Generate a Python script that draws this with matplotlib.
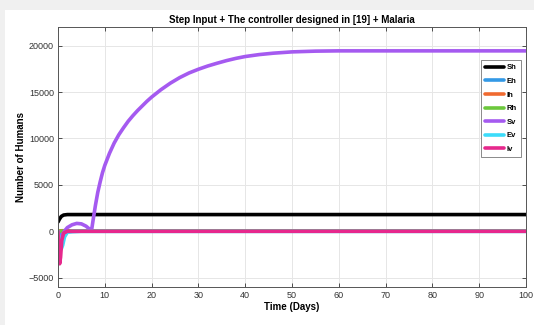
import matplotlib
matplotlib.use("Agg")
import matplotlib.pyplot as plt
from matplotlib.patches import Rectangle

plt.rcParams['font.family'] = ['Liberation Sans', 'DejaVu Sans']

# ---- data ----
t_sh = [0, 0.3, 0.7, 1.2, 2, 5, 10, 20, 40, 60, 80, 100]
Sh = [1000, 1300, 1600, 1750, 1800, 1800, 1800, 1800, 1800, 1800, 1800, 1800]

t_eh = [0, 0.3, 0.7, 1.2, 2, 5, 100]
Eh = [0, -300, -400, -200, -50, 0, 0]

t_ih = [0, 0.5, 1, 2, 5, 100]
Ih = [0, 50, 60, 30, 10, 10]

t_rh = [0, 1, 2, 5, 100]
Rh = [0, 20, 40, 50, 50]

t_sv = [0, 0.3, 0.6, 1, 1.5, 2, 3, 4, 5, 6, 6.7, 7.2, 7.5, 8, 8.5, 9, 9.5, 10, 11, 12,
        13, 14, 15, 16, 17, 18, 19, 20, 21, 22, 24, 26, 28, 30, 32, 34, 36, 38, 40,
        43, 46, 50, 55, 60, 70, 80, 90, 100]
Sv = [0, -1500, -900, -300, 100, 400, 700, 850, 800, 550, 250, 200, 1200, 2800, 4200,
      5300, 6300, 7100, 8400, 9500, 10400, 11150, 11850, 12450, 13000, 13500, 14000,
      14450, 14850, 15250, 15950, 16550, 17050, 17450, 17800, 18100, 18380, 18620, 18820,
      19030, 19180, 19320, 19400, 19430, 19430, 19430, 19430, 19430]

t_ev = [0, 0.3, 0.7, 1.0, 1.4, 2, 3, 100]
Ev = [0, -1200, -1900, -1500, -600, -100, 0, 0]

t_iv = [0, 0.15, 0.35, 0.55, 0.8, 1.2, 2, 3, 100]
Iv = [0, -2000, -3500, -2800, -1000, -200, 0, 0, 0]

labels = ['Sh', 'Eh', 'Ih', 'Rh', 'Sv', 'Ev', 'Iv']
colors = ['#000000', '#3399E6', '#F06A30', '#6CC83C', '#A55AF0', '#3CDCFA', '#E6288C']
xticks = list(range(0, 101, 10))
yticks = [-5000, 0, 5000, 10000, 15000, 20000]

fig = plt.figure(figsize=(5.34, 3.25), dpi=100, facecolor='white')
# light gray margins on the left and top
fig.patches.append(Rectangle((0, 0), 5 / 534, 1, transform=fig.transFigure,
                             facecolor='#f0f0f0', edgecolor='none', zorder=-10))
fig.patches.append(Rectangle((0, (325 - 10) / 325), 1, 10 / 325, transform=fig.transFigure,
                             facecolor='#f0f0f0', edgecolor='none', zorder=-10))
ax = fig.add_axes([58 / 534, (325 - 287) / 325, 468 / 534, 260 / 325])

series = [(t_sh, Sh), (t_eh, Eh), (t_ih, Ih), (t_rh, Rh), (t_sv, Sv), (t_ev, Ev), (t_iv, Iv)]
for (tt, yy), lab, c in zip(series, labels, colors):
    ax.plot(tt, yy, color=c, lw=2.6, label=lab, solid_capstyle='round',
            solid_joinstyle='round')

ax.set_xlim(0, 100)
ax.set_ylim(-6000, 22000)
ax.set_xticks(xticks)
ax.set_yticks(yticks)
ax.grid(True, color='#e6e6e6', lw=0.7)
ax.set_axisbelow(True)
ax.tick_params(direction='in', length=3, width=0.6, labelsize=6.5, colors='#333333',
               top=True, right=True, pad=3)
for s in ax.spines.values():
    s.set_color('#555555')
    s.set_linewidth(0.7)

ax.set_title('Step Input + The controller designed in [19] + Malaria', fontsize=7,
             fontweight='bold', pad=3)
ax.set_xlabel('Time (Days)', fontsize=7, fontweight='bold', labelpad=1)
ax.set_ylabel('Number of Humans', fontsize=7, fontweight='bold', labelpad=2)

leg = ax.legend(loc='upper right', bbox_to_anchor=(0.992, 0.878),
                prop={'weight': 'bold', 'size': 5.5}, handlelength=2.6, handletextpad=0.3,
                labelspacing=0.82, borderpad=0.5, borderaxespad=0.2, fancybox=False,
                framealpha=1, edgecolor='#777777')
leg.get_frame().set_linewidth(0.6)

fig.savefig('out.png', dpi=100, facecolor=fig.get_facecolor())
